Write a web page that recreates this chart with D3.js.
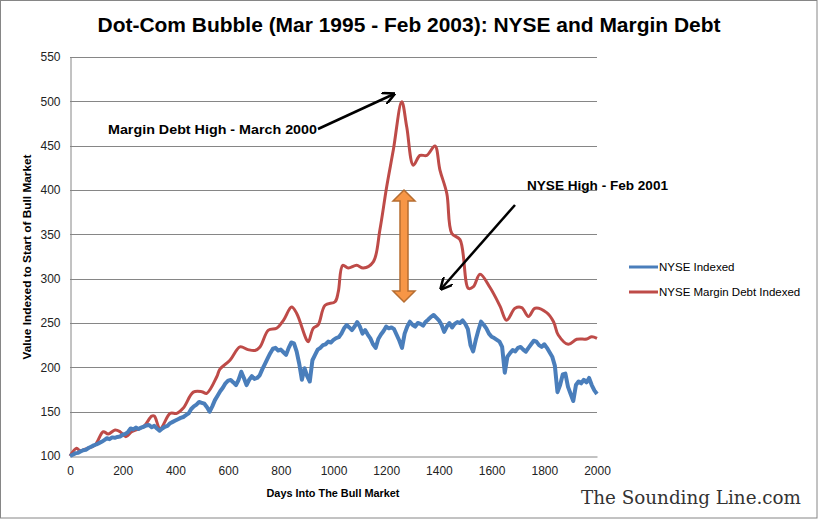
<!DOCTYPE html>
<html>
<head>
<meta charset="utf-8">
<script src="https://cdn.jsdelivr.net/npm/d3@7"></script>
<style>
  html, body { margin: 0; padding: 0; background: #fff; }
  svg { display: block; }
</style>
</head>
<body>
<svg id="chart" width="818" height="519"></svg>
<script>
// ---- Data ----
const chartTitle = "Dot-Com Bubble (Mar 1995 - Feb 2003): NYSE and Margin Debt";
const xTicks = [0, 200, 400, 600, 800, 1000, 1200, 1400, 1600, 1800, 2000];
const yTicks = [100, 150, 200, 250, 300, 350, 400, 450, 500, 550];
const seriesNames = ["NYSE Indexed", "NYSE Margin Debt Indexed"];

// NYSE Indexed, sampled every 10 days (day 0 .. 2000)
const nyseDays = d3.range(0, 2001, 10);
const nyseValues = [
  100, 101.5, 103, 103.5, 105, 106.5, 107, 109, 110.5, 112,
  113, 114.5, 116, 118, 120, 119, 121, 120.5, 121.5, 122,
  124, 125, 127, 131, 130, 132, 130.5, 132, 133, 134.5,
  135, 132.5, 134, 131, 128.5, 131, 133, 134, 137, 138.5,
  140, 141.5, 143, 144, 146, 148, 153, 156, 158, 161,
  160, 159, 155, 150, 156, 163, 168, 173, 177, 182,
  185, 185.7, 183, 180, 186, 195, 188, 180, 186, 190,
  187, 188, 191, 198, 204, 210, 216, 221, 222, 219,
  220, 217, 214, 222, 228, 227, 218, 204, 186, 199,
  190, 184, 208, 214, 220, 222, 225, 226, 229, 228,
  231, 233, 234, 238, 244, 247.7, 245, 242, 246, 251,
  246, 238, 242, 237, 232.7, 226, 222, 232, 237, 241,
  246, 244, 245, 243, 236.5, 230, 222, 238, 246, 251.5,
  248, 246, 250, 249, 247, 251.5, 254, 257, 259, 256,
  253, 248, 240, 246, 250, 245, 249, 251, 250, 253,
  249, 243, 225, 218, 231, 242, 251.5, 248, 244, 238,
  234.5, 233, 231, 229, 223, 194, 212, 216, 219.5, 218,
  222, 223, 220, 217.6, 222, 226, 230, 229, 225, 223,
  226, 222, 217, 212, 202, 172, 180, 192, 193, 178,
  170, 162, 180, 184, 182, 186, 183, 188, 180, 174,
  170
];

// NYSE Margin Debt Indexed (smooth curve), day and value
const debtDays = [0, 25, 38, 60, 95, 126, 145, 171, 190, 212, 234, 266, 285, 310, 320, 342,
  380, 405, 430, 468, 500, 519, 557, 569, 607, 645, 675, 702, 721, 753, 784, 810, 841,
  860, 898, 905, 923, 942, 968, 1006, 1018, 1035, 1056, 1088, 1113, 1151, 1176, 1202,
  1227, 1259, 1278, 1303, 1328, 1354, 1385, 1404, 1430, 1449, 1480, 1512, 1531, 1556,
  1594, 1632, 1657, 1689, 1714, 1740, 1765, 1809, 1835, 1853, 1891, 1923, 1961, 1980, 2000];
const debtValues = [100, 108.7, 106, 108, 112.4, 127.4, 124.8, 129.3, 127.4, 121.8, 127.4, 131.2, 135, 145, 145, 131,
  148, 148, 154, 172, 172.5, 170.7, 189.4, 198, 208, 223, 220, 219, 223, 242, 244, 253, 268,
  261, 231, 229, 244, 248, 270, 274, 285, 315, 312, 315, 312, 319, 355, 404,
  445, 499.6, 471, 428, 439, 439, 449.6, 422.5, 396, 351, 344, 289, 291, 305,
  290, 269, 253, 266.6, 267.3, 257.4, 266.6, 261.7, 251.5, 236.5, 226, 231.6, 232, 234.5, 232.7];

// Annotations
const annotDebtText = "Margin Debt High - March 2000";
const annotNyseText = "NYSE High - Feb 2001";
const watermark = "The Sounding Line.com";

// ---- Drawing ----
const svg = d3.select("#chart");
const W = 818, H = 519;
const plot = { left: 70, right: 597, top: 57, bottom: 456 };
const sans = "'Liberation Sans', Arial, sans-serif";

const x = d3.scaleLinear().domain([0, 2000]).range([plot.left, plot.right]);
const y = d3.scaleLinear().domain([100, 550]).range([plot.bottom, plot.top]);

const gridColor = "#868686";
const blue = "#4A7EBB";
const red = "#BE4B48";

// outer border
svg.append("rect").attr("x", 0.5).attr("y", 0.5).attr("width", W - 1.5).attr("height", H - 1.5)
  .attr("fill", "#fff").attr("stroke", gridColor).attr("stroke-width", 1);

// title
svg.append("text").attr("x", 409).attr("y", 32).attr("text-anchor", "middle")
  .style("font-family", sans)
  .attr("font-size", 20).attr("font-weight", "bold").attr("fill", "#000")
  .attr("textLength", 623).attr("lengthAdjust", "spacingAndGlyphs")
  .text(chartTitle);

// gridlines
svg.append("g").selectAll("line").data(yTicks.filter(v => v > 100)).join("line")
  .attr("x1", plot.left).attr("x2", plot.right)
  .attr("y1", d => Math.round(y(d)) + 0.5).attr("y2", d => Math.round(y(d)) + 0.5)
  .attr("stroke", gridColor).attr("stroke-width", 1);

// axes
const yAxis = d3.axisLeft(y).tickValues(yTicks).tickSize(0).tickPadding(10).tickFormat(d3.format("d"));
const gy = svg.append("g").attr("transform", `translate(${plot.left + 0.5},0)`).call(yAxis);
gy.select(".domain").attr("stroke", gridColor);
gy.selectAll("text").attr("font-size", 12).attr("fill", "#222").style("font-family", sans);

const xAxis = d3.axisBottom(x).tickValues(xTicks).tickSize(0).tickPadding(10).tickFormat(d3.format("d"));
const gx = svg.append("g").attr("transform", `translate(0,${plot.bottom + 0.5})`).call(xAxis);
gx.select(".domain").attr("stroke", gridColor);
gx.selectAll("text").attr("font-size", 12).attr("fill", "#222").style("font-family", sans);

// axis titles
svg.append("text").attr("transform", `translate(31,257) rotate(-90)`).attr("text-anchor", "middle")
  .style("font-family", sans)
  .attr("font-size", 11.5).attr("font-weight", "bold").attr("fill", "#000")
  .attr("textLength", 205).attr("lengthAdjust", "spacingAndGlyphs")
  .text("Value Indexed to Start of Bull Market");
svg.append("text").attr("x", 333).attr("y", 497).attr("text-anchor", "middle")
  .style("font-family", sans)
  .attr("font-size", 11.5).attr("font-weight", "bold").attr("fill", "#000")
  .attr("textLength", 133).attr("lengthAdjust", "spacingAndGlyphs")
  .text("Days Into The Bull Market");

// lines
const nyseData = nyseDays.map((d, i) => [d, nyseValues[i]]);
const debtData = debtDays.map((d, i) => [d, debtValues[i]]);

svg.append("path").datum(debtData)
  .attr("d", d3.line().x(d => x(d[0])).y(d => y(d[1])).curve(d3.curveCatmullRom.alpha(0.5)))
  .attr("fill", "none").attr("stroke", red).attr("stroke-width", 3).attr("stroke-linejoin", "round");

svg.append("path").datum(nyseData)
  .attr("d", d3.line().x(d => x(d[0])).y(d => y(d[1])))
  .attr("fill", "none").attr("stroke", blue).attr("stroke-width", 4).attr("stroke-linejoin", "round");

// legend
const legend = svg.append("g");
[[seriesNames[0], blue, 267], [seriesNames[1], red, 292]].forEach(([name, col, ly]) => {
  legend.append("line").attr("x1", 629).attr("x2", 658).attr("y1", ly).attr("y2", ly)
    .attr("stroke", col).attr("stroke-width", 3);
  legend.append("text").attr("x", 659).attr("y", ly + 4).attr("font-size", 11.5).attr("fill", "#000")
    .style("font-family", sans).text(name);
});

// arrow marker
const defs = svg.append("defs");
defs.append("marker").attr("id", "ah").attr("viewBox", "0 0 10 10").attr("refX", 9).attr("refY", 5)
  .attr("markerWidth", 5).attr("markerHeight", 5).attr("orient", "auto")
  .append("path").attr("d", "M0,0 L10,5 L0,10").attr("fill", "none").attr("stroke", "#000").attr("stroke-width", 2);

// annotations
svg.append("text").attr("x", 108).attr("y", 134).attr("font-size", 12.5).attr("font-weight", "bold")
  .style("font-family", sans)
  .attr("fill", "#000").attr("textLength", 209).attr("lengthAdjust", "spacingAndGlyphs").text(annotDebtText);
svg.append("line").attr("x1", 318).attr("y1", 129).attr("x2", 394).attr("y2", 94)
  .attr("stroke", "#000").attr("stroke-width", 2.5).attr("marker-end", "url(#ah)");

svg.append("text").attr("x", 527).attr("y", 190).attr("font-size", 12.5).attr("font-weight", "bold")
  .style("font-family", sans)
  .attr("fill", "#000").attr("textLength", 141).attr("lengthAdjust", "spacingAndGlyphs").text(annotNyseText);
svg.append("line").attr("x1", 515).attr("y1", 205).attr("x2", 441).attr("y2", 289)
  .attr("stroke", "#000").attr("stroke-width", 2.5).attr("marker-end", "url(#ah)");

// orange double arrow
const ax = 404, aTop = 190, aBot = 302, shaftW = 4, headW = 11, headH = 11;
const arrowPath = `M${ax},${aTop} L${ax + headW},${aTop + headH} L${ax + shaftW},${aTop + headH}
  L${ax + shaftW},${aBot - headH} L${ax + headW},${aBot - headH} L${ax},${aBot}
  L${ax - headW},${aBot - headH} L${ax - shaftW},${aBot - headH} L${ax - shaftW},${aTop + headH}
  L${ax - headW},${aTop + headH} Z`;
svg.append("path").attr("d", arrowPath).attr("fill", "#F79646").attr("stroke", "#B66D31").attr("stroke-width", 1.5);

// watermark
svg.append("text").attr("x", 581).attr("y", 504).attr("font-size", 19)
  .style("font-family", "'DejaVu Serif', 'Liberation Serif', serif").attr("fill", "#333")
  .attr("textLength", 220).attr("lengthAdjust", "spacingAndGlyphs").text(watermark);
</script>
</body>
</html>
